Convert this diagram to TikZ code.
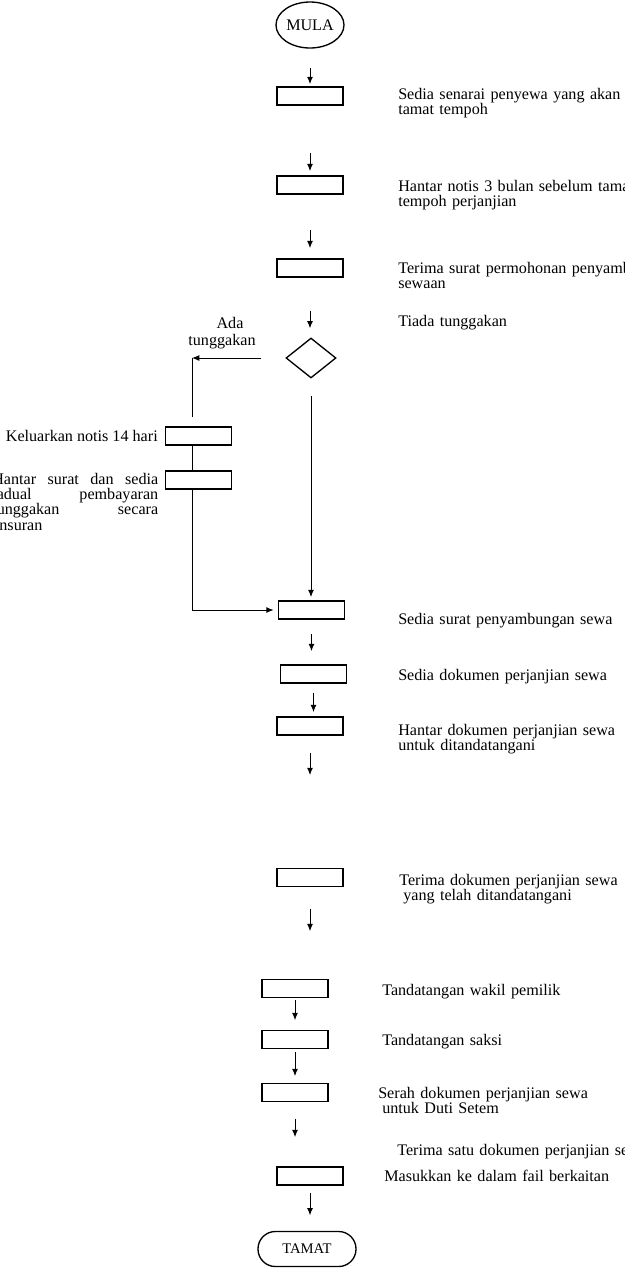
\documentclass[tikz,border=0pt]{standalone}
\usepackage{fontspec}
\setmainfont{Liberation Serif}
\usetikzlibrary{shapes.geometric,arrows.meta}
\tikzset{
  stepbox/.style={draw,line width=1.3pt,minimum width=49.5pt,minimum height=13.5pt,inner sep=0pt},
  link/.style={line width=0.75pt},
  flow/.style={link,-{Latex[length=5.5pt,width=4.5pt]}},
  note/.style={anchor=base west,text width=300pt,align=left,inner sep=0pt},
}
\newcommand{\flowfont}{\fontsize{12.1}{11.5}\selectfont}

\begin{document}
\begin{tikzpicture}[x=0.75pt,y=-0.75pt,every node/.style={font=\flowfont}]
  \useasboundingbox (0,0) rectangle (625,1268);
  \clip (0,0) rectangle (625,1268);
  % start and end
  \node[draw,ellipse,line width=1pt,minimum width=51pt,minimum height=34.5pt,inner sep=0pt] (mula) at (310,25) {MULA};
  \node[draw,rounded corners=13pt,line width=1pt,minimum width=73.5pt,minimum height=26.25pt,inner sep=0pt,font=\fontsize{11}{12}\selectfont] (tamat) at (307,1249) {TAMAT};
  % steps
  \node[stepbox] (senarai) at (310,96) {};
  \node[stepbox] (notis) at (310,185) {};
  \node[stepbox] (mohon) at (310,268) {};
  \node[draw,diamond,line width=1pt,minimum width=37.5pt,minimum height=30pt,inner sep=0pt] (semak) at (311,358) {};
  \node[stepbox] (keluar) at (198.5,436) {};
  \node[stepbox] (jadual) at (198.5,480) {};
  \node[stepbox] (surat) at (311.5,610) {};
  \node[stepbox] (sedia) at (313.5,674) {};
  \node[stepbox] (hantar) at (310,726) {};
  \node[stepbox] (terima) at (310,877.5) {};
  \node[stepbox] (wakil) at (295,988.5) {};
  \node[stepbox] (saksi) at (295,1039.5) {};
  \node[stepbox] (serah) at (295,1092.5) {};
  \node[stepbox] (fail) at (310,1176) {};
  % texts
  \node[note] (tsenarai) at (398,99) {Sedia senarai penyewa yang akan\\tamat tempoh};
  \node[note] (tnotis) at (398,191) {Hantar notis 3 bulan sebelum tamat\\tempoh perjanjian};
  \node[note] (tmohon) at (398,273) {Terima surat permohonan penyambungan\\sewaan};
  \node[note] (ttiada) at (398,326) {Tiada tunggakan};
  \node[anchor=base,text width=60pt,align=center,inner sep=0pt] (tada) at (222,328) {\hspace*{12pt}Ada\\[1.5pt]tunggakan};
  \node[anchor=base east,inner sep=0pt] (tkeluar) at (158,441) {Keluarkan notis 14 hari};
  \node[anchor=base west,inner sep=0pt,text width=124.5pt,align=justify] (tjadual) at (-8,484)
    {\tolerance=10000\hyphenpenalty=10000 Hantar surat dan sedia\linebreak jadual pembayaran\linebreak tunggakan secara\linebreak ansuran};
  \node[note] (tsurat) at (398,624) {Sedia surat penyambungan sewa};
  \node[note] (tsedia) at (398,680) {Sedia dokumen perjanjian sewa};
  \node[note] (thantar) at (398,735) {Hantar dokumen perjanjian sewa\\untuk ditandatangani};
  \node[note] (tterima) at (399,885) {Terima dokumen perjanjian sewa\\\hspace*{0.25em}yang telah ditandatangani};
  \node[note] (twakil) at (382,995) {Tandatangan wakil pemilik};
  \node[note] (tsaksi) at (382,1045) {Tandatangan saksi};
  \node[note] (tserah) at (378,1098) {Serah dokumen perjanjian sewa\\\hspace*{0.25em}untuk Duti Setem};
  \node[note] (tsatu) at (397,1155) {Terima satu dokumen perjanjian sewa};
  \node[note] (tfail) at (384,1181) {Masukkan ke dalam fail berkaitan};
  % arrows
  \draw[flow,shorten <=14.25pt,shorten >=1.5pt] (mula.south) -- (mula.south |- senarai.north);
  \draw[flow,shorten <=35.25pt,shorten >=3pt] (senarai.south) -- (senarai.south |- notis.north);
  \draw[flow,shorten <=26.25pt,shorten >=7.5pt] (notis.south) -- (notis.south |- mohon.north);
  \draw[flow,shorten <=24.75pt,shorten >=6.75pt] (mohon.south) -- (mohon.south |- semak.north);
  \draw[flow,shorten <=12.75pt,shorten >=2.25pt] (semak.south) -- (semak.south |- surat.north);
  \draw[flow,shorten <=10.5pt,shorten >=9.75pt] (surat.south) -- (surat.south |- sedia.north);
  \draw[flow,shorten <=6.75pt,shorten >=3pt] (sedia.south) -- (sedia.south |- hantar.north);
  \draw[flow,shorten <=12.75pt,shorten >=69.4pt] (hantar.south) -- (hantar.south |- terima.north);
  \draw[flow,shorten <=16.1pt,shorten >=35.6pt] (terima.south) -- (terima.south |- wakil.north);
  \draw[flow,shorten <=1.1pt,shorten >=7.1pt] (wakil.south) -- (wakil.south |- saksi.north);
  \draw[flow,shorten <=1.9pt,shorten >=4.9pt] (saksi.south) -- (saksi.south |- serah.north);
  \draw[flow,shorten <=12.4pt,shorten >=21.75pt] (serah.south) -- (serah.south |- fail.north);
  \draw[flow,shorten <=5.25pt,shorten >=11.6pt] (fail.south) -- (fail.south |- tamat.north);
  % arrears branch
  \coordinate (adacorner) at (192,358);
  \draw[flow,shorten <=18pt] (semak.west) -- (adacorner);
  \draw[link,shorten >=6.75pt] (adacorner) -- (adacorner |- keluar.north);
  \draw[link] (adacorner |- keluar.south) -- (adacorner |- jadual.north);
  \draw[flow,shorten >=3pt] (adacorner |- jadual.south) |- (surat.west);
\end{tikzpicture}
\end{document}
